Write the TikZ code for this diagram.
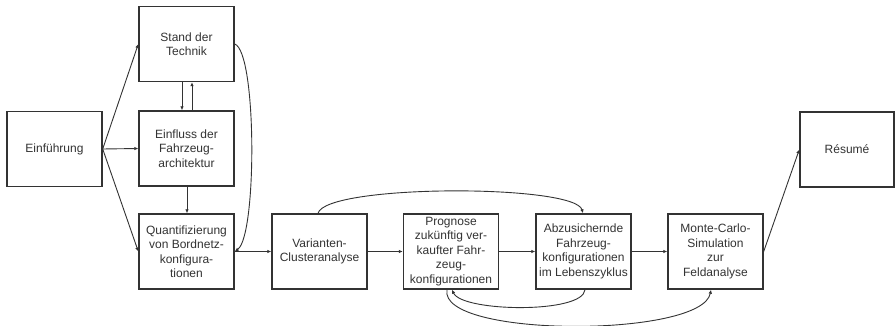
\documentclass[tikz,border=0pt]{standalone}
\usepackage{fontspec}
\setmainfont{Liberation Sans}
\usetikzlibrary{arrows.meta,calc}
\definecolor{ink}{HTML}{333333}
\tikzset{
  box/.style={draw=ink, line width=1.4pt, rectangle, minimum width=95pt, minimum height=75pt,
    inner sep=1pt, align=center, text=ink, font=\fontsize{12pt}{14.5pt}\selectfont},
  link/.style={draw=ink, line width=0.9pt, -{Latex[length=4pt,width=3.5pt]}}
}
\begin{document}
\begin{tikzpicture}[x=1pt,y=-1pt]
\useasboundingbox (0,0) rectangle (895,326);
\fill[white] (0,0) rectangle (895,326);

\node[box] (einf)  at (54.5,149)   {Einführung};
\node[box] (stand) at (186.5,44)   {Stand der\\Technik};
\node[box] (arch)  at (186.5,148.5) {Einfluss der\\Fahrzeug-\\architektur};
\node[box] (quant) at (186.5,251.5) {Quantifizierung\\von Bordnetz-\\konfigura-\\tionen};
\node[box] (clust) at (319.5,251.5) {Varianten-\\Clusteranalyse};
\node[box] (prog)  at (451,251.5)  {Prognose\\zukünftig ver-\\kaufter Fahr-\\zeug-\\konfigurationen};
\node[box] (abz)   at (583.5,251.5) {Abzusichernde\\Fahrzeug-\\konfigurationen\\im Lebenszyklus};
\node[box] (monte) at (715.5,251.5) {Monte-Carlo-\\Simulation\\zur\\Feldanalyse};
\node[box, minimum width=94pt] (res) at (847,149.5) {Résumé};

% fan-out from the introduction
\draw[link] (einf.east) -- (stand.west);
\draw[link] (einf.east) -- (arch.west);
\draw[link] (einf.east) -- (quant.west);

% exchange between state of the art and architecture
\draw[link] ([xshift=-4.5pt]stand.south) -- ([xshift=-4.5pt]arch.north);
\draw[link] ([xshift=5.5pt]arch.north) -- ([xshift=5.5pt]stand.south);
\draw[link] ([xshift=0.5pt]arch.south) -- ([xshift=0.5pt]quant.north);

% state of the art feeds the quantification directly
\draw[link] (stand.east) .. controls (257,52) and (257,236) .. (quant.east);

% main chain
\draw[link] (quant.east) -- (clust.west);
\draw[link] (clust.west -| clust.east) -- (prog.west);
\draw[link] (prog.east) -- (abz.west);
\draw[link] (abz.east) -- (monte.west);
\draw[link] (monte.east) -- (res.west);

% feedback and bypass arcs
\draw[link] ([xshift=-1.5pt]clust.north) .. controls (326,184) and (575,184) .. ([xshift=-0.5pt]abz.north);
\draw[link] ([xshift=1.5pt]abz.south) .. controls (583,314) and (462,312) .. ([xshift=1pt]prog.south);
\draw[link] ([xshift=-4pt]prog.south) .. controls (438,338) and (702,338) .. ([xshift=-4.5pt]monte.south);
\end{tikzpicture}
\end{document}
